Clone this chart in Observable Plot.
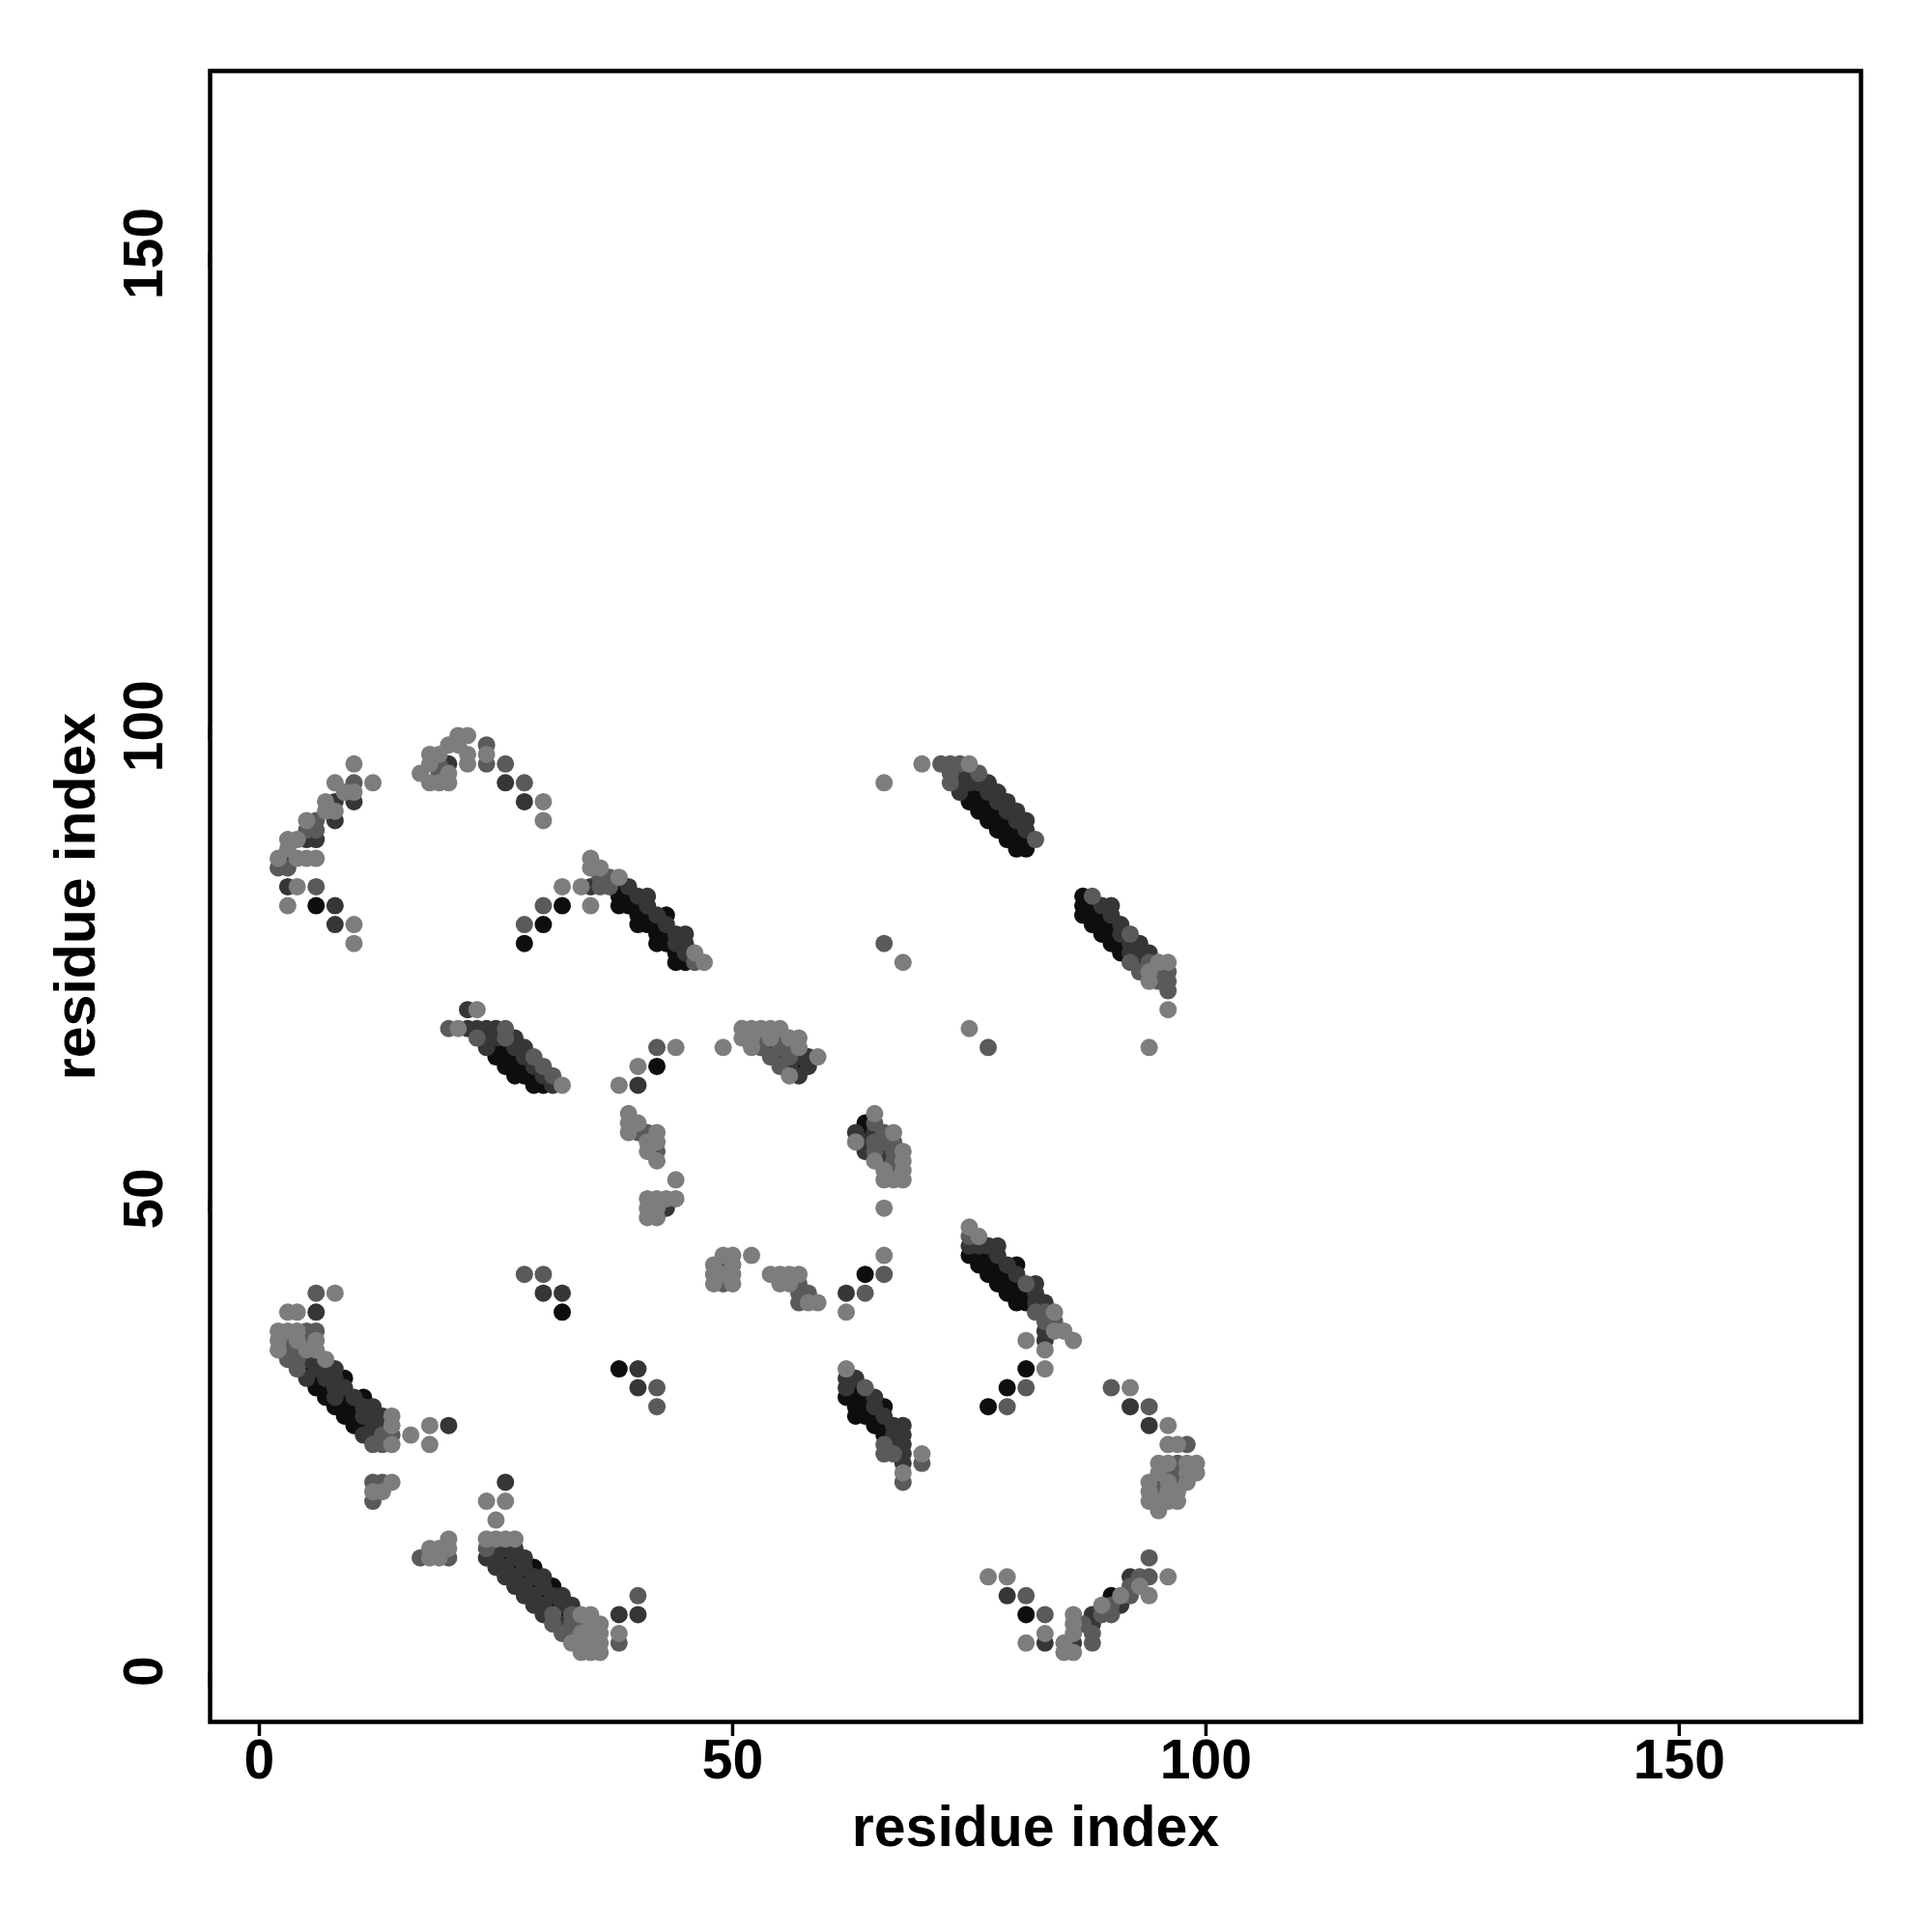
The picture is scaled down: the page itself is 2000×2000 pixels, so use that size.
<!DOCTYPE html>
<html><head><meta charset="utf-8">
<script src="https://cdn.jsdelivr.net/npm/d3@7"></script>
<script src="https://cdn.jsdelivr.net/npm/@observablehq/plot@0.6"></script>
<style>body{margin:0;background:#fff}</style>
</head><body><div id="chart"></div>
<script>
// contact points [residue i, residue j], grouped by gray level
const lightPts = [
[10,96],[8,94],[12,94],[9,93],[10,93],[7,92],[5,90],[7,91],[8,91],[3,88],[4,88],[2,86],[4,86],[5,86],[6,86],[3,87],[4,83],[3,81],[10,79],[10,77],
[21,99],[22,99],[20,98],[21,98],[18,97],[19,97],[22,97],[24,97],[18,96],[22,96],[17,95],[20,95],[18,94],[19,94],[20,94],
[30,92],[30,90],
[35,86],[35,85],[36,85],[38,84],[34,83],[32,83],[35,81],[46,76],[47,75],
[23,70],[21,68],[32,62],
[44,66],[40,64],[38,62],[49,66],
[39,59],[39,58],[39,57],[40,58],[41,56],[42,57],[42,56],[41,55],[42,54],[44,52],[41,50],[42,50],[43,50],[44,50],[41,49],[42,49],[41,48],[42,48],
[49,44],[50,44],[52,44],[48,43],[50,43],[48,42],[49,42],[50,42],[48,41],[50,41],
[54,42],[55,42],[56,42],[57,42],[55,41],[56,41],[58,39],[59,39],
[65,59],[67,57],[63,56],[68,55],[65,54],[68,54],[66,53],[68,53],[66,52],[67,52],[68,52],[66,49],
[51,68],[52,68],[53,68],[54,68],[55,68],[51,67],[52,67],[54,67],[56,67],[57,67],[52,66],[57,66],[59,65],[56,63],
[62,38],[66,44],
[66,94],[70,96],[68,75],[75,68],[94,66],[96,70],
[75,96],
[95,75],[96,75],[94,74],[94,73],
[75,47],[76,46],[84,38],[84,36],[85,36],[81,35],[86,35],[83,34],
[83,32],
[92,30],[96,26],[96,24],[97,24],[95,22],[96,22],[98,22],[99,22],[95,21],[98,21],[99,21],[94,20],[96,20],[98,20],[94,19],[96,19],[97,19],[94,18],[95,18],[96,18],[97,18],[95,17],
[77,10],[79,10],[81,3],[83,4],[85,2],[86,2],[85,3],[86,4],[86,5],[86,6],[89,7],[91,8],[93,9],[94,8],[96,10],
[62,32],[68,21],[70,23],
[3,38],[4,38],[8,40],[2,36],[3,36],[4,36],[2,35],[4,35],[6,35],[2,34],[5,34],[6,34],[7,33],[14,27],[14,26],[14,24],[16,25],[18,26],[18,24],
[14,20],[12,19],[13,19],
[18,12],[19,12],[18,13],[19,13],[20,13],[20,14],
[24,18],[26,18],[25,16],[24,14],[25,14],[26,14],[27,14],[34,6],[35,6],[35,5],[36,5],[34,4],[35,4],[36,4],[33,3],[34,3],[35,3],[36,3],[34,2],[35,2],[36,2],[38,4]
];
const mediumPts = [
[10,94],[6,90],[5,89],[6,89],[2,85],[3,85],[6,83],
[24,98],[19,96],[24,96],[19,95],
[26,96],[28,94],
[36,84],[37,84],[36,83],[37,83],[46,75],[28,79],[30,81],
[20,68],[23,67],[26,67],[29,65],[30,64],[31,63],[26,68],
[42,66],
[40,57],[41,57],[42,55],
[28,42],[30,42],
[49,41],
[57,41],[57,40],[58,40],[57,39],
[65,58],[66,57],[65,56],[66,56],[67,56],[65,55],[67,55],[67,54],[67,53],
[53,67],[55,67],[53,66],[55,66],[56,66],[54,65],[56,65],[55,64],
[64,40],[66,42],
[66,77],[77,66],
[72,96],[73,96],[74,96],[73,95],[76,95],[73,94],[82,88],
[88,82],[92,78],[92,75],[94,75],[93,74],[95,74],[96,74],[95,73],[96,73],[96,72],
[75,46],[81,41],[82,38],[83,38],[83,37],[84,37],
[79,28],[81,30],
[90,30],[94,28],[98,24],[97,22],[96,21],[97,21],[97,20],[95,19],
[81,8],[83,6],[87,5],[88,4],[88,3],[89,6],[90,7],[90,6],[92,9],[92,8],[93,10],[94,12],[94,10],
[64,30],[66,24],[66,23],[67,23],[68,20],[70,22],
[42,30],[42,28],
[6,40],[5,36],[6,36],[3,35],[5,35],[3,34],[4,34],[3,33],[4,33],[4,32],[13,25],[14,25],[12,24],[13,24],
[12,20],[13,20],[12,18],
[17,12],[20,12],
[24,13],[31,6],[33,6],[31,5],[33,5],[34,5],[32,4],[33,4],[38,3],[40,8]
];
const darkPts = [
[8,92],[10,92],[8,90],[5,88],[6,88],[3,86],[3,83],[8,81],[8,79],
[20,96],
[26,94],[28,92],
[35,83],[39,83],[40,82],[41,82],[41,81],[42,80],[43,79],[44,78],[44,77],[45,78],[45,77],[45,76],
[22,70],[22,68],[23,68],[24,68],[25,68],[24,67],[25,67],[27,67],[24,66],[27,66],[28,66],[28,65],[29,64],[30,63],[31,62],
[40,62],
[43,49],
[30,40],[32,40],
[49,43],
[63,57],[65,57],[64,56],[64,55],[66,55],[66,54],
[54,66],[55,65],[57,65],[58,65],[56,64],[58,64],[57,63],
[62,40],
[74,95],[75,95],[74,94],[75,94],[76,94],[77,94],[74,93],[77,93],[78,93],[78,92],[79,92],[79,91],[80,91],[80,90],[81,90],[81,89],
[89,81],[90,81],[90,80],[91,79],[91,78],[92,77],[93,77],[92,76],[93,76],[94,76],[93,75],
[75,45],[76,45],[77,45],[78,45],[78,44],[79,43],[80,42],[82,41],[82,40],[82,39],[83,39],[83,36],[83,35],
[92,28],[94,26],[95,20],
[79,8],[83,3],[86,3],[88,6],[88,5],[91,7],[92,10],
[62,31],[63,31],[62,30],[65,29],[65,28],[66,27],[67,26],[68,26],[67,25],[68,25],[67,24],[68,24],[68,23],[68,22],
[40,32],[40,30],
[6,38],[5,33],[6,33],[6,32],[7,32],[8,32],[5,31],[7,31],[8,31],[8,30],[9,30],[8,29],[10,29],[11,28],[12,28],[11,27],[12,27],[13,27],[12,26],[13,26],[11,25],[12,25],[20,26],
[26,20],[25,13],[26,13],[27,13],[24,12],[25,12],[27,12],[28,12],[25,11],[26,11],[28,11],[26,10],[27,10],[29,10],[30,10],[27,9],[28,9],[30,9],[28,8],[29,8],[31,8],[32,8],[29,7],[30,7],[32,7],[33,7],[30,6],[32,5],[38,6],[40,6]
];
const blackPts = [
[6,81],
[38,83],[38,82],[39,82],[39,81],[38,81],[40,81],[40,80],[41,80],[41,79],[40,79],[42,79],[42,78],[42,77],[43,80],[43,78],[43,77],[44,76],[44,75],[45,75],[32,81],[30,79],[28,77],
[25,66],[26,66],[25,65],[26,65],[27,65],[26,64],[27,64],[28,64],[27,63],[28,63],[29,63],[29,62],[30,62],
[42,64],
[32,38],
[64,58],[64,57],
[57,64],
[64,42],
[75,93],[76,93],[75,92],[76,92],[77,92],[76,91],[77,91],[78,91],[77,90],[78,90],[79,90],[78,89],[79,89],[80,89],[79,88],[80,88],[81,88],[80,87],[81,87],
[87,82],[87,81],[88,81],[87,80],[88,80],[89,80],[88,79],[89,79],[90,79],[89,78],[90,78],[90,77],[91,77],[91,76],
[75,44],[76,44],[77,44],[76,43],[77,43],[78,43],[80,43],[77,42],[78,42],[79,42],[78,41],[79,41],[80,41],[79,40],[80,40],[81,40],[80,39],[81,39],
[77,28],[79,30],[81,32],
[81,6],[90,8],
[63,30],[62,29],[63,29],[64,29],[63,28],[64,28],[66,28],[63,27],[64,27],[65,27],[65,26],[66,26],[66,25],
[38,32],
[5,32],[6,31],[9,31],[6,30],[7,30],[7,29],[9,29],[11,29],[8,28],[9,28],[10,28],[9,27],[10,27],[10,26],[11,26],
[26,12],[27,11],[29,11],[28,10],[29,9],[31,9],[30,8],[31,7],[32,6]
];
const levels = ["black","dark","medium","light"];
const grays = ["#0e0e0e","#363636","#5a5a5a","#7d7d7d"];
const xTicks = [0, 50, 100, 150];
const yTicks = [0, 50, 100, 150];
const xTitle = "residue index";
const yTitle = "residue index";

const groups = [blackPts, darkPts, mediumPts, lightPts];
const data = groups.flatMap((pts, k) => pts.map(([x, y]) => ({x, y, level: levels[k]})));

const font = "'Liberation Sans', Arial, Helvetica, sans-serif";
const chart = Plot.plot({
  width: 2000, height: 2000,
  marginLeft: 217, marginRight: 74, marginTop: 73, marginBottom: 218,
  x: {domain: [-5.2, 169.2]},
  y: {domain: [-5.35, 169.3]},
  color: {type: "ordinal", domain: levels, range: grays},
  style: {fontFamily: font, background: "white", color: "black"},
  marks: [
    Plot.dot(data, {x: "x", y: "y", r: 9, fill: "level"}),
    Plot.frame({stroke: "black", strokeWidth: 4.5}),
    Plot.axisX({ticks: xTicks, tickSize: 15, tickPadding: 3, fontSize: 57, fontWeight: "bold", strokeWidth: 3.5, label: null}),
    Plot.axisY({ticks: yTicks, tickSize: 15, tickPadding: 53, fontSize: 57, fontWeight: "bold", rotate: -90, textAnchor: "middle", strokeWidth: 3.5, label: null}),
    Plot.text([xTitle], {frameAnchor: "bottom", dy: 110, lineAnchor: "middle", textAnchor: "middle", fontSize: 59, fontWeight: "bold"}),
    Plot.text([yTitle], {frameAnchor: "left", dx: -138, rotate: -90, lineAnchor: "middle", textAnchor: "middle", fontSize: 59, fontWeight: "bold"})
  ]
});
document.getElementById("chart").appendChild(chart);
</script>
</body></html>
